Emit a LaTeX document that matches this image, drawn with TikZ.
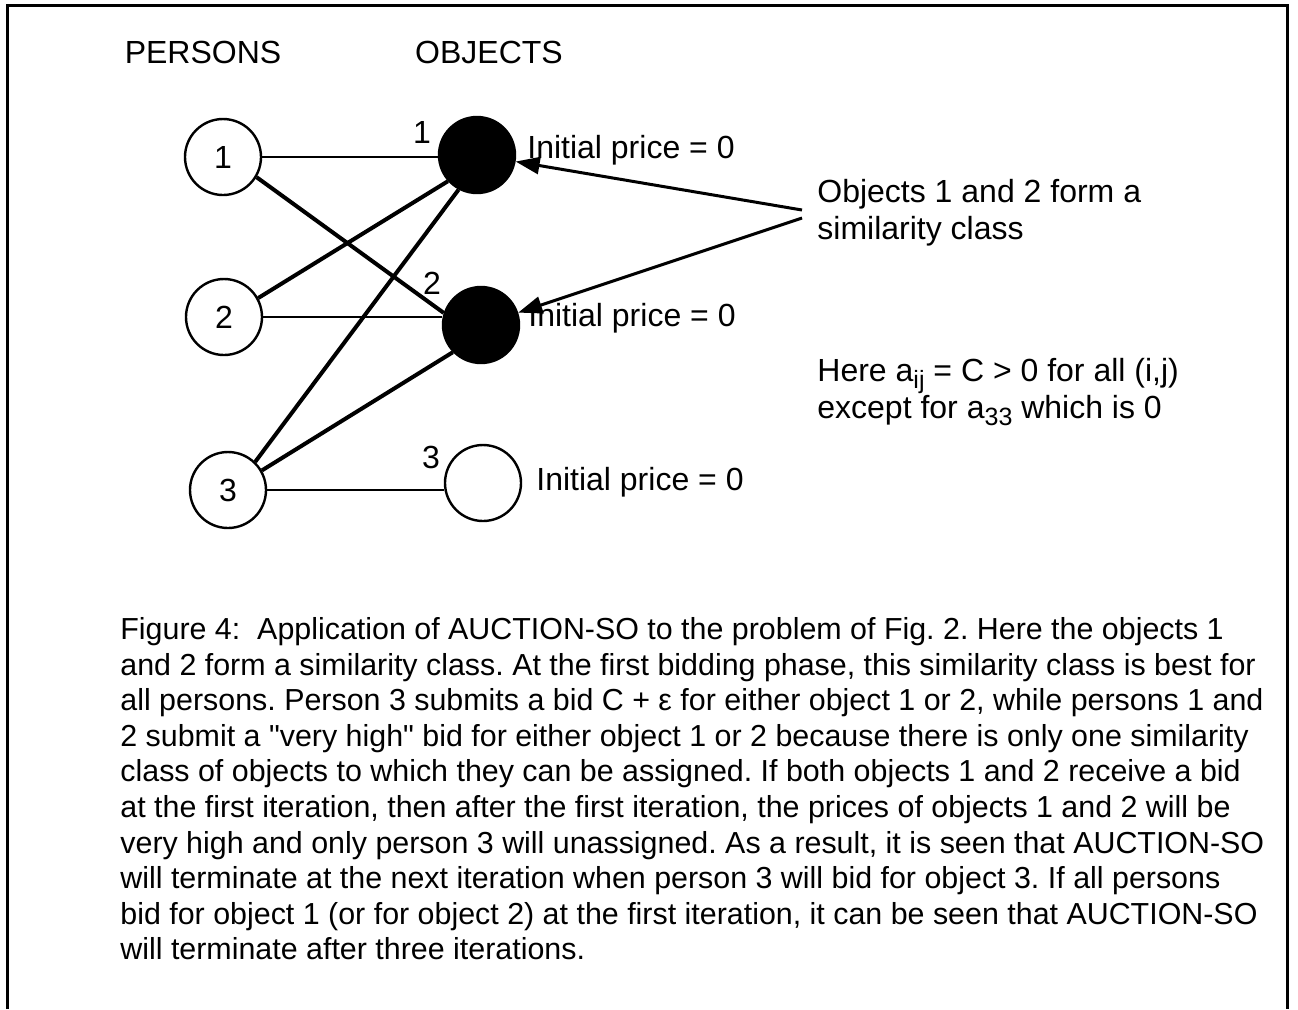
\documentclass[tikz,border=0pt]{standalone}
\usepackage{fontspec}
\setmainfont{Liberation Sans}
\usepackage{tikz}
\usetikzlibrary{positioning,arrows.meta,calc}
\newcommand{\lowsub}[1]{\raisebox{-3.5pt}{\fontsize{12.5}{13}\selectfont #1}}
\tikzset{
  pers/.style ={draw, circle, line width=1.2pt, minimum size=38pt, inner sep=0pt,
                font=\fontsize{16}{19}\selectfont},
  obj/.style  ={pers, fill=black},
  eobj/.style ={pers, fill=white},
  txt/.style  ={inner sep=0pt, align=left, font=\fontsize{16}{18.5}\selectfont},
  lbl/.style  ={inner sep=0pt, font=\fontsize{16}{19}\selectfont},
  thin/.style ={line width=1pt},
  thk/.style  ={line width=2pt},
  ar/.style   ={-{Triangle[length=12pt,width=8.5pt]}, line width=1.5pt},
}
\begin{document}
\frenchspacing
\begin{tikzpicture}[x=0.5pt,y=-0.5pt]
\useasboundingbox (0,0) rectangle (1298,1009);
% frame, open at the bottom
\draw[line width=1.5pt] (7,1009) -- (7,5) -- (1287,5) -- (1287,1009);
\node[txt] (hp) at (203,52) {PERSONS};
\node[txt] (ho) at (489,52) {OBJECTS};
% persons
\node[pers] (p1) at (223,157) {1};
\node[pers] (p2) at (224,317) {2};
\node[pers] (p3) at (228,490) {3};
% objects
\node[obj]  (o1) at (477,155) {};
\node[obj]  (o2) at (481,325) {};
\node[eobj] (o3) at (483,483) {};
\node[lbl] (n1) at (422,132) {1};
\node[lbl] (n2) at (432,283) {2};
\node[lbl] (n3) at (431,457) {3};
\draw[thin] (p1.east) -- (p1.east -| o1.west);
\draw[thin] (p2.east) -- (p2.east -| o2.west);
\draw[thin] (p3.east) -- (p3.east -| o3.west);
\draw[thk] (p1.-31) -- (o2.162); \draw[thk] (p2.29) -- (o1.222);
\draw[thk] (p3.46) -- (o1.242); \draw[thk] (p3.30) -- (o2.224);
\node[txt,anchor=west] (pr1) at (527,150) {Initial price = 0};
\node[txt,anchor=west] (pr2) at (528,318) {Initial price = 0};
\node[txt,anchor=west] (pr3) at (536,482) {Initial price = 0};
\node[txt,anchor=west] (sim) at (817,213) {Objects 1 and 2 form a\\similarity class};
\draw[ar] ([shift={(-15,-3)}]sim.west) -- (o1);
\draw[ar] ([shift={(-15,5)}]sim.west) -- (o2);
\node[txt,anchor=west] (here) at (817,392)
  {Here a\lowsub{ij} = C > 0 for all (i,j)\\except for a\lowsub{33} which is 0};
\node[txt,anchor=north west,font=\fontsize{15.2}{17.8}\selectfont] (cap) at (120,617)
  {Figure 4:\ \ Application of AUCTION-SO to the problem of Fig. 2. Here the objects 1\\
   and 2 form a similarity class. At the first bidding phase, this similarity class is best for\\
   all persons. Person 3 submits a bid C + ε for either object 1 or 2, while persons 1 and\\
   2 submit a \textquotedbl very high\textquotedbl\ bid for either object 1 or 2 because there is only one similarity\\
   class of objects to which they can be assigned. If both objects 1 and 2 receive a bid\\
   at the first iteration, then after the first iteration, the prices of objects 1 and 2 will be\\
   very high and only person 3 will unassigned. As a result, it is seen that AUCTION-SO\\
   will terminate at the next iteration when person 3 will bid for object 3. If all persons\\
   bid for object 1 (or for object 2) at the first iteration, it can be seen that AUCTION-SO\\
   will terminate after three iterations.};
\end{tikzpicture}
\end{document}
